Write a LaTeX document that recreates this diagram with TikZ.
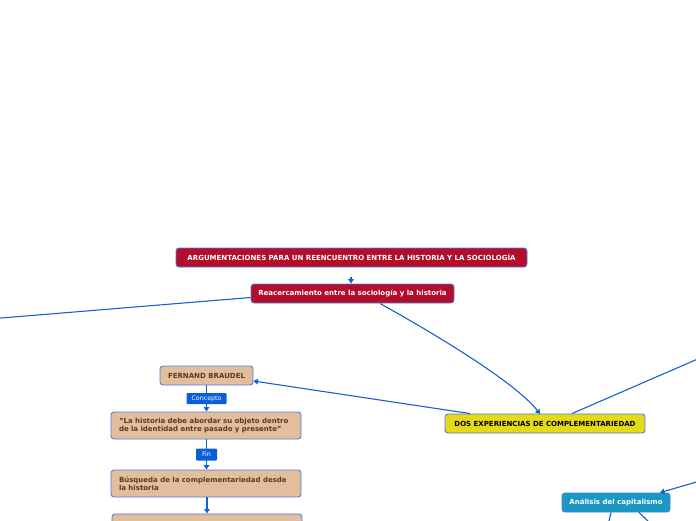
\documentclass[tikz,border=0pt]{standalone}
\usepackage{fontspec}
\setmainfont{DejaVu Sans}
\usetikzlibrary{arrows.meta}
\definecolor{crim}{HTML}{B20D2C}
\definecolor{tan}{HTML}{E2BE9E}
\definecolor{yel}{HTML}{E6D91C}
\definecolor{teal}{HTML}{1898C2}
\definecolor{lbl}{HTML}{0A5FD8}
\definecolor{edge}{HTML}{1460D4}
\definecolor{bord}{HTML}{4A80DC}
\definecolor{brn}{HTML}{5A3A1A}
\tikzset{
  box/.style={draw=bord, line width=0.9pt, rounded corners=3pt, inner sep=0pt, font=\fontsize{7}{8.2}\selectfont\bfseries},
  redbox/.style={box, fill=crim, text=white},
  tanbox/.style={box, fill=tan, text=brn},
  yelbox/.style={box, fill=yel, text=black},
  tealbox/.style={box, fill=teal, text=white},
  lab/.style={fill=lbl, text=white, inner sep=0pt, rounded corners=1pt, font=\fontsize{6.3}{7}\selectfont},
  conn/.style={draw=edge, line width=1.1pt, -{Triangle[length=4.5pt,width=5.5pt]}},
  plain/.style={draw=edge, line width=1.1pt}
}
\begin{document}
\begin{tikzpicture}[x=1pt,y=-1pt]
\useasboundingbox (0,0) rectangle (696,520);
\node[redbox, minimum width=351pt, minimum height=19pt] (top) at (351.5,257.5) {ARGUMENTACIONES PARA UN REENCUENTRO ENTRE LA HISTORIA Y LA SOCIOLOGÍA};
\node[redbox, minimum width=203pt, minimum height=19pt] (rea) at (352.5,293.5) {Reacercamiento entre la sociología y la historia};
\node[tanbox, minimum width=93pt, minimum height=19pt] (fb) at (206.5,375.5) {FERNAND BRAUDEL};
\node[tanbox, minimum width=190pt, minimum height=27pt, text width=174pt, align=left] (quote) at (206,425.5) {"La historia debe abordar su objeto dentro\\de la identidad entre pasado y presente"};
\node[tanbox, minimum width=190pt, minimum height=27pt, text width=174pt, align=left] (busq) at (206,483.5) {Búsqueda de la complementariedad desde\\la historia};
\node[tanbox, minimum width=190pt, minimum height=27pt, anchor=north] (next) at (207,513.5) {};
\node[yelbox, minimum width=200pt, minimum height=19pt] (dos) at (545,423.5) {DOS EXPERIENCIAS DE COMPLEMENTARIEDAD};
\node[tealbox, minimum width=108pt, minimum height=19pt] (anal) at (616,502.5) {Análisis del capitalismo};
\coordinate (c1) at (351,277);
\coordinate (c2) at (-5,318.5);
\coordinate (c3) at (700,358);
\coordinate (c4) at (700,481);
\coordinate (c5) at (608,525);
\coordinate (c6) at (652,525);
\draw[conn] (c1) -- (rea.north -| c1);
\draw[plain] (rea.west |- 0,297.5) -- (c2);
\draw[conn] (380,303.5) .. controls (460,348) and (520,388) .. (540,414);
\draw[conn] (dos.north -| 470,0) -- (fb.east |- 0,381);
\draw[plain] (dos.north -| 572,0) -- (c3);
\draw[conn] (c4) -- (anal.north -| 660,0);
\draw[plain] (anal.south -| 611,0) -- (c5);
\draw[plain] (anal.south -| 639,0) -- (c6);
\draw[conn] (fb.south) -- node[lab, minimum width=40pt, minimum height=11pt] (l1) {Concepto} (quote.north -| fb.south);
\draw[conn] (quote.south -| 206.5,0) -- node[lab, minimum width=21pt, minimum height=12pt] (l2) {Fin} (busq.north -| 206.5,0);
\draw[conn] (busq.south -| 207,0) -- (next.north);
\end{tikzpicture}
\end{document}
